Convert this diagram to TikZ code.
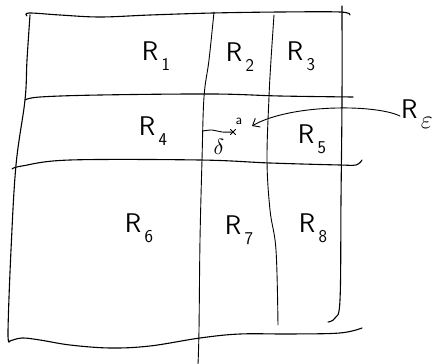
\documentclass[tikz,border=0pt]{standalone}
\usepackage{graphicx}
\usetikzlibrary{arrows.meta,calc}
\newcommand{\Rlab}[1]{\textsf{R}\kern0.12em\raisebox{-0.38em}{\fontsize{18}{18}\selectfont\sffamily #1}}
\tikzset{
  pen/.style={line width=1.1pt, line cap=round, line join=round, black},
  thinpen/.style={line width=0.9pt, line cap=round, line join=round, black},
  lbl/.style={inner sep=0pt, font=\fontsize{27}{30}\selectfont\sffamily},
  small/.style={inner sep=0pt}
}
\begin{document}
\begin{tikzpicture}[x=1pt,y=-1pt]
\useasboundingbox (0,0) rectangle (432,364);
% outer frame and grid lines
\draw[pen] plot[smooth, tension=0.6] coordinates {(27,16) (29,13) (60,15) (100,17) (150,15) (213,13) (280,12) (340,12) (350,15)};
\draw[pen] plot[smooth, tension=0.6] coordinates {(30,15) (27,60) (25,100) (16,165) (11,250) (8,332) (10,341)};
\draw[pen] plot[smooth, tension=0.6] coordinates {(10,341) (22,338) (40,340) (70,345) (110,348) (150,346) (200,338) (240,334) (290,334) (340,333) (362,328)};
\draw[thinpen] plot[smooth, tension=0.6] coordinates {(214,12) (209,60) (204,97) (202,160) (200,240) (199,330) (198,364)};
\draw[thinpen] plot[smooth, tension=0.6] coordinates {(274,15) (271,60) (269,97) (267,160) (270,210) (276,250) (278,325)};
\draw[pen] plot[smooth, tension=0.6] coordinates {(342,6) (342,100) (341,200) (340,300) (335,318) (328,322)};
\draw[pen] plot[smooth, tension=0.6] coordinates {(25,100) (40,97) (100,95) (213,94) (280,96) (353,97)};
\draw[pen] plot[smooth, tension=0.6] coordinates {(12,169) (22,166) (70,160) (200,160) (270,163) (340,165) (356,165) (362,160)};
% labels
\node[lbl] (r1) at (156,56) {\Rlab{1}};
\node[lbl] (r2) at (240,57) {\Rlab{2}};
\node[lbl] (r3) at (301,56) {\Rlab{3}};
\node[lbl] (r4) at (153,131) {\Rlab{4}};
\node[lbl] (r5) at (312,139) {\Rlab{5}};
\node[lbl] (r6) at (139,228) {\Rlab{6}};
\node[lbl] (r7) at (239,230) {\Rlab{7}};
\node[lbl] (r8) at (313,228) {\Rlab{8}};
\node[lbl, anchor=west] (re) at (401,114) {\Rlab{\scalebox{1.5}{$\varepsilon$}}};
% point a with delta
\coordinate (edge) at (203,131);
\coordinate (pa) at (233,132);
\draw[thinpen] plot[smooth, tension=0.6] coordinates {(edge) (212,130) (222,132) (pa)};
\draw[thinpen] ($(pa)+(-2.5,-2.5)$) -- ($(pa)+(2.5,2.5)$);
\draw[thinpen] ($(pa)+(-2.5,2.5)$) -- ($(pa)+(2.5,-2.5)$);
\node[small, font=\fontsize{14}{14}\selectfont\sffamily] (alab) at (239,121) {a};
\node[small] (dlab) at (219,147) {\scalebox{2.2}{$\delta$}};
\coordinate (tip) at (252,126);
\draw[thinpen, -{Straight Barb[length=6pt, width=10pt]}] (re.west) ++(-1,2) .. controls (375,104) and (290,104) .. (tip);
\end{tikzpicture}
\end{document}
